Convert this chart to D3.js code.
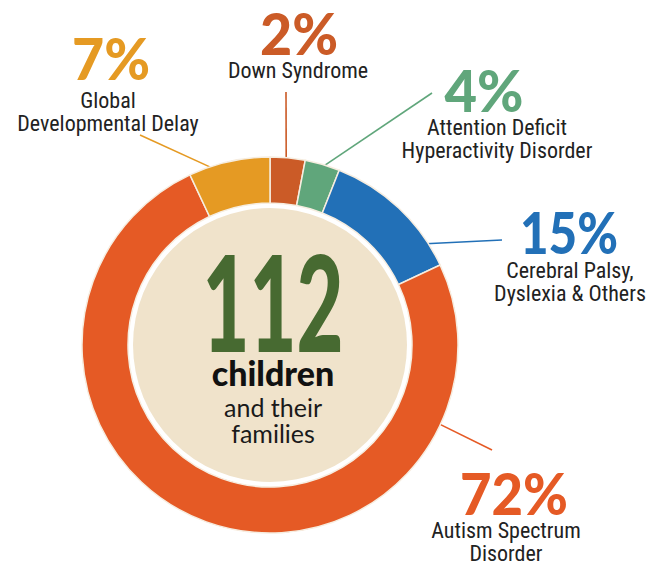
<!DOCTYPE html>
<html>
<head>
<meta charset="utf-8">
<script src="https://cdn.jsdelivr.net/npm/d3@7"></script>
<style>
  body { margin: 0; background: #fff; }
  svg { display: block; }
</style>
</head>
<body>
<div id="chart"></div>
<script>
// categories, clockwise from 12 o'clock
var categories = ["Down Syndrome", "Attention Deficit Hyperactivity Disorder", "Cerebral Palsy, Dyslexia & Others", "Autism Spectrum Disorder", "Global Developmental Delay"];
var arcShare = [3, 3, 12, 75, 7];
// percentages printed next to each slice
var pctLabels = ["2%", "4%", "15%", "72%", "7%"];
var nameLines = [["Down Syndrome"], ["Attention Deficit", "Hyperactivity Disorder"], ["Cerebral Palsy,", "Dyslexia & Others"], ["Autism Spectrum", "Disorder"], ["Global", "Developmental Delay"]];
var colors = ["#CB5B27", "#60A67B", "#2270B7", "#E55A25", "#E59A23"];

var totalChildren = "112";
var centerLines = ["children", "and their", "families"];

var svgWidth = 666;
var svgHeight = 562;
var cx = 270, cy = 345;
var outerR = 188, innerR = 142, discR = 137;

// label layout per slice (number position, name position, leader line)
var layout = [
  { nx: 299, ny: 55, nw: 78, tx: 298, ty: 78, lineAngle: 5, lineEnd: [286, 92] },
  { nx: 484, ny: 112, nw: 79, tx: 497, ty: 135, lineAngle: 16.5, lineEnd: [432, 93] },
  { nx: 569, ny: 254, nw: 98, tx: 570, ty: 278, lineAngle: 57, lineEnd: [502, 240] },
  { nx: 514, ny: 515, nw: 108, tx: 506, ty: 538, lineAngle: 115, lineEnd: [492, 450] },
  { nx: 111, ny: 80, nw: 78, tx: 108, ty: 108, lineAngle: 342, lineEnd: [140, 135] }
];

var svg = d3.select("#chart")
  .append("svg")
  .attr("width", svgWidth)
  .attr("height", svgHeight);

var chartGroup = svg.append("g")
  .attr("transform", `translate(${cx}, ${cy})`);

var pie = d3.pie().sort(null).value(d => d);
var arc = d3.arc().innerRadius(innerR).outerRadius(outerR);

var arcs = pie(arcShare);

// Leader lines (drawn first, under the ring)
chartGroup.selectAll(".leader")
  .data(arcs)
  .enter()
  .append("line")
  .attr("class", "leader")
  .attr("x1", (d, i) => (outerR - 2) * Math.sin(layout[i].lineAngle * Math.PI / 180))
  .attr("y1", (d, i) => -(outerR - 2) * Math.cos(layout[i].lineAngle * Math.PI / 180))
  .attr("x2", (d, i) => layout[i].lineEnd[0] - cx)
  .attr("y2", (d, i) => layout[i].lineEnd[1] - cy)
  .attr("stroke", (d, i) => colors[i])
  .attr("stroke-width", 1.6);

// Ring slices
chartGroup.selectAll(".slice")
  .data(arcs)
  .enter()
  .append("path")
  .attr("class", "slice")
  .attr("d", arc)
  .attr("fill", (d, i) => colors[i])
  .attr("stroke", "#f6ede0")
  .attr("stroke-width", 1.5);

// Beige disc in the middle
chartGroup.append("circle")
  .attr("r", discR)
  .attr("fill", "#F0E3CB");

// Percent numbers
svg.selectAll(".pct")
  .data(pctLabels)
  .enter()
  .append("text")
  .attr("class", "pct")
  .attr("x", (d, i) => layout[i].nx)
  .attr("y", (d, i) => layout[i].ny)
  .attr("text-anchor", "middle")
  .attr("textLength", (d, i) => layout[i].nw)
  .attr("lengthAdjust", "spacingAndGlyphs")
  .style("font-family", "Lato, 'DejaVu Sans', sans-serif")
  .style("font-weight", 900)
  .style("font-size", "57px")
  .style("fill", (d, i) => colors[i])
  .text(d => d);

// Category names
var names = svg.selectAll(".name")
  .data(nameLines)
  .enter()
  .append("text")
  .attr("class", "name")
  .attr("text-anchor", "middle")
  .style("font-family", "'Liberation Sans Narrow', 'Roboto Condensed', Roboto, sans-serif")
  .style("font-size", "22px")
  .style("fill", "#222");

names.selectAll("tspan")
  .data((d, i) => d.map(t => ({ t: t, i: i })))
  .enter()
  .append("tspan")
  .attr("x", d => layout[d.i].tx)
  .attr("y", (d, j) => layout[d.i].ty + j * 22.5)
  .text(d => d.t);

// Center text
chartGroup.append("text")
  .attr("x", 3)
  .attr("y", 7)
  .attr("text-anchor", "middle")
  .attr("textLength", 141)
  .attr("lengthAdjust", "spacingAndGlyphs")
  .style("font-family", "Lato, 'DejaVu Sans', sans-serif")
  .style("font-weight", 900)
  .style("font-size", "133px")
  .style("fill", "#476A31")
  .text(totalChildren);

chartGroup.append("text")
  .attr("x", 3)
  .attr("y", 41)
  .attr("text-anchor", "middle")
  .style("font-family", "Lato, sans-serif")
  .style("font-weight", 900)
  .style("font-size", "34px")
  .style("fill", "#111")
  .text(centerLines[0]);

chartGroup.selectAll(".sub")
  .data(centerLines.slice(1))
  .enter()
  .append("text")
  .attr("class", "sub")
  .attr("x", 3)
  .attr("y", (d, i) => 72 + i * 26)
  .attr("text-anchor", "middle")
  .style("font-family", "Lato, sans-serif")
  .style("font-weight", 400)
  .style("font-size", "25px")
  .style("fill", "#1a1a1a")
  .text(d => d);
</script>
</body>
</html>
